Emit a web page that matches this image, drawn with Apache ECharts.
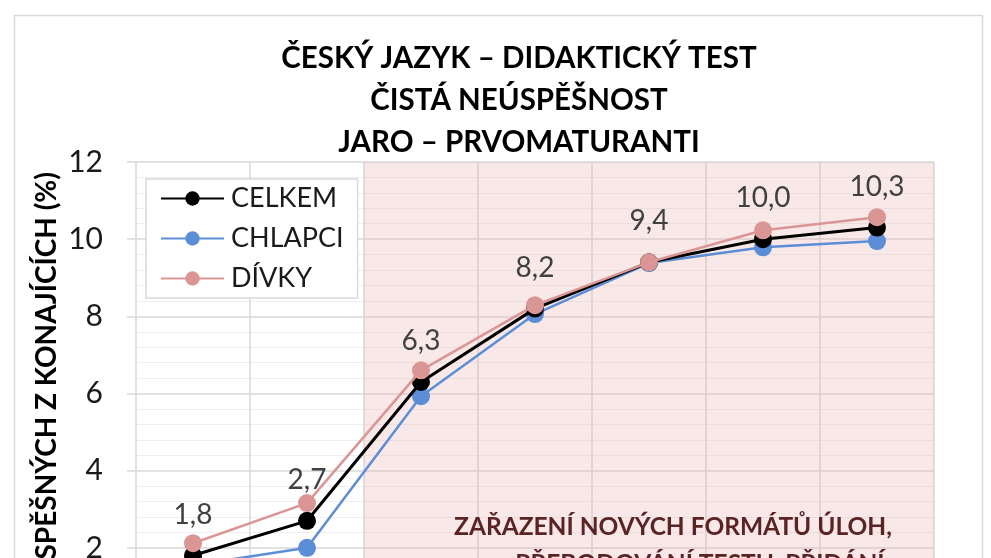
<!DOCTYPE html>
<html><head><meta charset="utf-8">
<script src="https://cdn.jsdelivr.net/npm/echarts@6/dist/echarts.min.js"></script>
<style>html,body{margin:0;padding:0;background:#fff}#c{width:991px;height:558px}</style>
</head><body><div id="c"></div>
<script>
const categories = ['2011','2012','2013','2014','2015','2016','2017'];
const celkem  = [1.8, 2.7, 6.3, 8.2, 9.4, 10.0, 10.3];
const chlapci = [1.55, 2.0, 5.93, 8.06, 9.38, 9.79, 9.95];
const divky   = [2.12, 3.16, 6.6, 8.29, 9.4, 10.23, 10.57];
const yTicks = [0, 2, 4, 6, 8, 10, 12];
const shadedFrom = 2, shadedTo = 7;
const titleLines = ['ČESKÝ JAZYK – DIDAKTICKÝ TEST', 'ČISTÁ NEÚSPĚŠNOST', 'JARO – PRVOMATURANTI'];
const yName = 'PODÍL NEÚSPĚŠNÝCH Z KONAJÍCÍCH (%)';
const noteLines = ['ZAŘAZENÍ NOVÝCH FORMÁTŮ ÚLOH,', 'PŘEBODOVÁNÍ TESTU, PŘIDÁNÍ'];

const FONT = 'Lato, "Open Sans", sans-serif';
const chart = echarts.init(document.getElementById('c'));
const fmt = v => Number(v).toFixed(1).replace('.', ',');
const mk = (name, data, color, lw, extra) => Object.assign({
  name, type: 'line', data, xAxisIndex: 0, yAxisIndex: 0,
  symbol: 'circle', symbolSize: 18, z: 5,
  lineStyle: { color, width: lw }, itemStyle: { color },
  emphasis: { disabled: true }
}, extra || {});

chart.setOption({
  animation: false,
  backgroundColor: '#fff',
  title: {
    text: titleLines.join('\n'), left: 514, textAlign: 'center', top: 32,
    textStyle: { fontFamily: FONT, fontWeight: 'bold', fontSize: 29.5, color: '#000', lineHeight: 42 }
  },
  legend: {
    orient: 'vertical', left: 146, top: 179,
    padding: [6, 14, 6, 14],
    backgroundColor: '#fff', borderColor: '#d9d9d9', borderWidth: 1.5,
    itemWidth: 63, itemHeight: 18, itemGap: 13,
    data: ['CELKEM', 'CHLAPCI', 'DÍVKY'],
    textStyle: { fontFamily: FONT, fontSize: 27, color: '#1a1a1a', padding: [0, 0, 0, 2] }
  },
  grid: { left: 136, top: 162, width: 798, height: 463, outerBoundsMode: 'none', containLabel: false },
  xAxis: [
    { type: 'category', data: categories, boundaryGap: true,
      axisLine: { show: false }, axisTick: { show: false }, axisLabel: { show: false },
      splitLine: { show: true, lineStyle: { color: '#d9d9d9', width: 1.5 } } },
    { type: 'value', min: 0, max: categories.length, show: false,
      splitLine: { show: false } }
  ],
  yAxis: {
    type: 'value', min: yTicks[0], max: yTicks[yTicks.length - 1], interval: 2,
    axisLine: { show: false },
    axisTick: { show: true, length: 9, lineStyle: { color: '#d9d9d9', width: 1.5 } },
    axisLabel: { fontFamily: FONT, fontSize: 30, color: '#1a1a1a', margin: 33 },
    splitLine: { lineStyle: { color: '#d9d9d9', width: 1.5 } },
    minorTick: { show: false, splitNumber: 5 },
    minorSplitLine: { show: true, lineStyle: { color: '#efefef', width: 1 } }
  },
  graphic: [
    { type: 'rect', left: 12, top: 13, shape: { width: 968, height: 600 }, silent: true,
      style: { fill: 'none', stroke: '#d9d9d9', lineWidth: 1.5 }, z: -10 },
    { type: 'text', x: 47, y: 172, rotation: Math.PI / 2,
      style: { text: yName, fontFamily: FONT, fontWeight: 'bold', fontSize: 28, fill: '#000',
               align: 'right', verticalAlign: 'middle' } },
    { type: 'text', x: 673, y: 527, z: 20,
      style: { text: noteLines[0], fontFamily: FONT, fontWeight: 'bold', fontSize: 24.5,
               fill: '#5b2424', align: 'center', verticalAlign: 'middle' } },
    { type: 'text', x: 700, y: 564, z: 20,
      style: { text: noteLines[1], fontFamily: FONT, fontWeight: 'bold', fontSize: 24.5,
               fill: '#5b2424', align: 'center', verticalAlign: 'middle' } }
  ],
  series: [
    { type: 'line', xAxisIndex: 1, yAxisIndex: 0, data: [], silent: true, z: 1,
      markArea: { silent: true,
        itemStyle: { color: 'rgba(230,170,170,0.27)' },
        data: [[{ xAxis: shadedFrom }, { xAxis: shadedTo }]] } },
    mk('CELKEM', celkem, '#000000', 3, {
      z: 6,
      label: { show: true, position: 'top', distance: 18, formatter: p => fmt(p.value),
               fontFamily: FONT, fontSize: 28, color: '#404040' } }),
    mk('CHLAPCI', chlapci, '#5b8ed6', 2.5),
    mk('DÍVKY', divky, '#d99694', 2.5, { z: 7 })
  ]
});
</script></body></html>
